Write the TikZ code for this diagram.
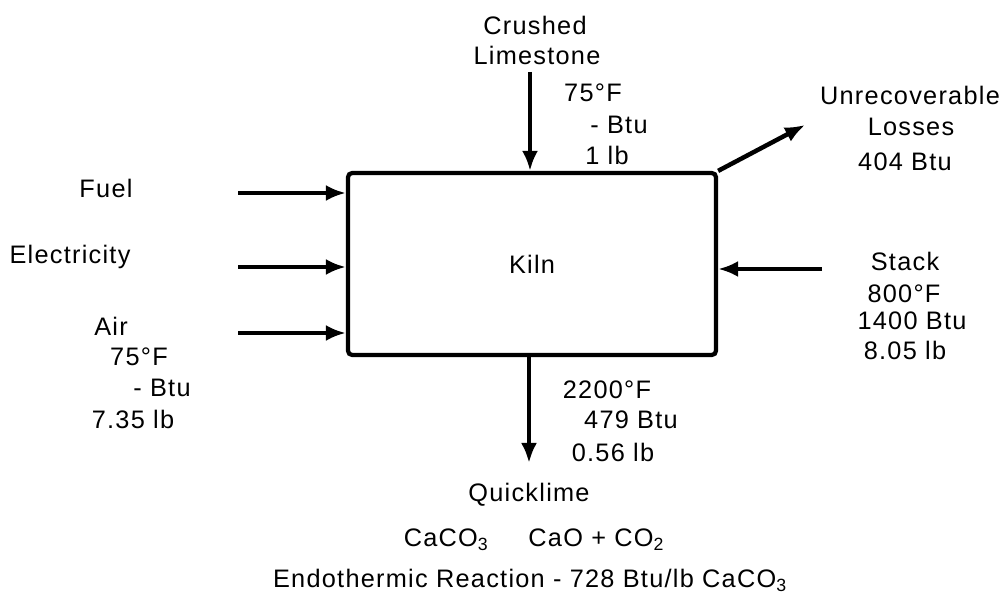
\documentclass[tikz,border=0pt]{standalone}
\usepackage{fontspec}
\setmainfont{Liberation Sans}[LetterSpace=5]
\usepackage{tikz}
\usetikzlibrary{arrows.meta}

\begin{document}
\begin{tikzpicture}[
    lbl/.style={font=\fontsize{18}{21}\selectfont, inner sep=0pt},
    flow/.style={line width=3.2pt, -{Latex[length=0.5cm,width=0.4cm]}}
  ]
      \useasboundingbox (0,0) rectangle (25.15,15.3);
      % kiln box
      \node[draw, line width=3pt, rounded corners=3pt, minimum width=9.2cm, minimum height=4.55cm, lbl] (kiln) at(13.3,8.7){Kiln};
      % limestone in
      \node[lbl] (crushed)   at(13.375,14.675){Crushed};
      \node[lbl] (limestone) at(13.425,13.925){Limestone};
      \node[lbl] (limetemp)  at(14.825,12.975){75°F};
      \node[lbl] (limeheat)  at(15.475,12.175){- Btu};
      \node[lbl] (limemass)  at(15.175,11.425){1 lb};
      \coordinate (limein) at(13.25,13.5);
      \draw[flow] (limein) -- (limein |- kiln.north);
      % losses
      \node[lbl] (unrec)     at(22.75,12.925){Unrecoverable};
      \node[lbl] (losses)    at(22.775,12.125){Losses};
      \node[lbl] (lossheat)  at(22.625,11.25){404 Btu};
      \coordinate (lossout) at(20.125,12.175);
      \draw[flow] (kiln.north east) -- (lossout);
      % inputs on the left
      \node[lbl] (fuel)      at(2.65,10.6){Fuel};
      \node[lbl] (elec)      at(1.75,8.875){Electricity};
      \node[lbl] (air)       at(2.775,7.15){Air};
      \node[lbl] (airtemp)   at(3.475,6.375){75°F};
      \node[lbl] (airheat)   at(4.05,5.6){- Btu};
      \node[lbl] (airmass)   at(3.325,4.825){7.35 lb};
      \coordinate (fuelin) at(5.95,10.475);
      \coordinate (elecin) at(5.95,8.625);
      \coordinate (airin)  at(5.95,6.975);
      \draw[flow] (fuelin) -- (fuelin -| kiln.west);
      \draw[flow] (elecin) -- (elecin -| kiln.west);
      \draw[flow] (airin) -- (airin -| kiln.west);
      % stack
      \node[lbl] (stack)     at(22.625,8.775){Stack};
      \node[lbl] (stacktemp) at(22.6,7.95){800°F};
      \node[lbl] (stackheat) at(22.8,7.275){1400 Btu};
      \node[lbl] (stackmass) at(22.625,6.55){8.05 lb};
      \coordinate (stackin) at(20.55,8.575);
      \draw[flow] (stackin) -- (stackin -| kiln.east);
      % quicklime out
      \coordinate (limeout) at(13.225,3.725);
      \draw[flow] (limeout |- kiln.south) -- (limeout);
      \node[lbl] (qltemp)    at(15.175,5.55){2200°F};
      \node[lbl] (qlheat)    at(15.775,4.8){479 Btu};
      \node[lbl] (qlmass)    at(15.325,4.0){0.56 lb};
      \node[lbl] (quicklime) at(13.225,2.925){Quicklime};
      % reaction
      \node[lbl] (reaction)  at(13.35,1.8){CaCO\textsubscript{3}\hspace{1cm}CaO + CO\textsubscript{2}};
      \node[lbl] (endo)      at(13.25,0.8){Endothermic Reaction - 728 Btu/lb CaCO\textsubscript{3}};
\end{tikzpicture}
\end{document}
